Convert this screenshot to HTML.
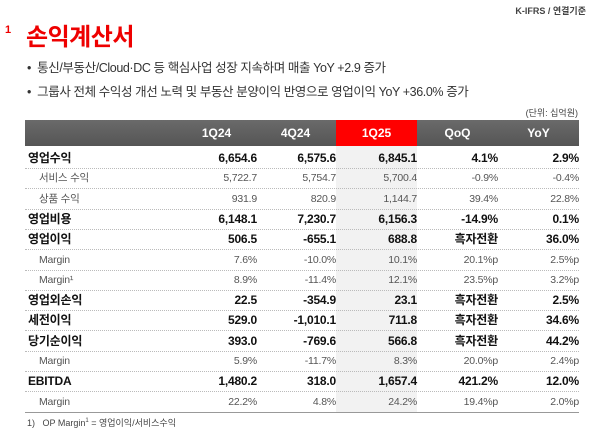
<!DOCTYPE html>
<html><head><meta charset="utf-8"><style>
body{margin:0;width:600px;height:432px;background:#fff;font-family:"Liberation Sans","Noto Sans CJK KR",sans-serif;position:relative;overflow:hidden;color:#222}
.a{position:absolute;white-space:nowrap}
.row{position:absolute;left:25px;width:554px;height:20px;border-bottom:1px dotted #bbb}
.row span{position:absolute;top:0;line-height:20px}
.b{font-weight:bold;font-size:12px;color:#111;letter-spacing:-0.2px}
.s{font-size:10.5px;color:#555;letter-spacing:-0.2px}
</style></head><body>
<div class="a" style="right:14px;top:4px;font-size:9px;font-weight:bold;color:#444">K-IFRS / 연결기준</div>
<div class="a" style="left:5px;top:24px;font-size:11px;color:#e00;font-weight:bold">1</div>
<div class="a" style="left:26px;top:17px;font-size:24px;font-weight:bold;color:#e00;letter-spacing:-0.5px">손익계산서</div>
<div class="a" style="left:27px;top:57px;font-size:12.5px;color:#333;letter-spacing:-0.4px">•&nbsp; 통신/부동산/Cloud·DC 등 핵심사업 성장 지속하며 매출 YoY +2.9 증가</div>
<div class="a" style="left:27px;top:81px;font-size:12.5px;color:#333;letter-spacing:-0.4px">•&nbsp; 그룹사 전체 수익성 개선 노력 및 부동산 분양이익 반영으로 영업이익 YoY +36.0% 증가</div>
<div class="a" style="right:22px;top:106px;font-size:9px;color:#444">(단위: 십억원)</div>
<div class="a" style="left:336px;top:146px;width:81px;height:266px;background:#f2f2f2"></div>
<div class="a" style="left:25px;top:120px;width:554px;height:26px;background:linear-gradient(#6a6a6a,#555)"></div>
<div class="a" style="left:336px;top:120px;width:81px;height:26px;background:#f00"></div>
<div id="hdr"></div>
<div id="tbl"></div>
<div class="a" style="left:25px;top:412px;width:554px;height:1px;background:#999"></div>
<div class="a" style="left:27px;top:416px;font-size:9px;color:#444">1)&nbsp;&nbsp; OP Margin<sup style="font-size:6px">1</sup> = 영업이익/서비스수익</div>
<script>
const headers=["1Q24","4Q24","1Q25","QoQ","YoY"];
const labels=["영업수익","서비스 수익","상품 수익","영업비용","영업이익","Margin","Margin¹","영업외손익","세전이익","당기순이익","Margin","EBITDA","Margin"];
const bold=[1,0,0,1,1,0,0,1,1,1,0,1,0];
const q124=["6,654.6","5,722.7","931.9","6,148.1","506.5","7.6%","8.9%","22.5","529.0","393.0","5.9%","1,480.2","22.2%"];
const q424=["6,575.6","5,754.7","820.9","7,230.7","-655.1","-10.0%","-11.4%","-354.9","-1,010.1","-769.6","-11.7%","318.0","4.8%"];
const q125=["6,845.1","5,700.4","1,144.7","6,156.3","688.8","10.1%","12.1%","23.1","711.8","566.8","8.3%","1,657.4","24.2%"];
const qoq=["4.1%","-0.9%","39.4%","-14.9%","흑자전환","20.1%p","23.5%p","흑자전환","흑자전환","흑자전환","20.0%p","421.2%","19.4%p"];
const yoy=["2.9%","-0.4%","22.8%","0.1%","36.0%","2.5%p","3.2%p","2.5%","34.6%","44.2%","2.4%p","12.0%","2.0%p"];
const rightEdges=[257,336,417,498,579];
const hdr=document.getElementById('hdr');
headers.forEach((h,i)=>{const d=document.createElement('div');


d.className='a';d.style.cssText=`left:${rightEdges[i]-81}px;width:81px;top:120px;line-height:26px;text-align:center;color:#fff;font-weight:bold;font-size:12px`;d.textContent=h;hdr.appendChild(d);});
const tbl=document.getElementById('tbl');
const cols=[q124,q424,q125,qoq,yoy];
labels.forEach((l,r)=>{const row=document.createElement('div');


row.className='row '+(bold[r]?'b':'s');row.style.top=(148+r*20.3)+'px';
const lb=document.createElement('span');lb.style.left=bold[r]?'3px':'14px';lb.textContent=l;


row.appendChild(lb);
cols.forEach((c,i)=>{const s=document.createElement('span');


s.style.right=(579-rightEdges[i])+'px';s.textContent=c[r];row.appendChild(s);});
tbl.appendChild(row);});
</script>
</body></html>
